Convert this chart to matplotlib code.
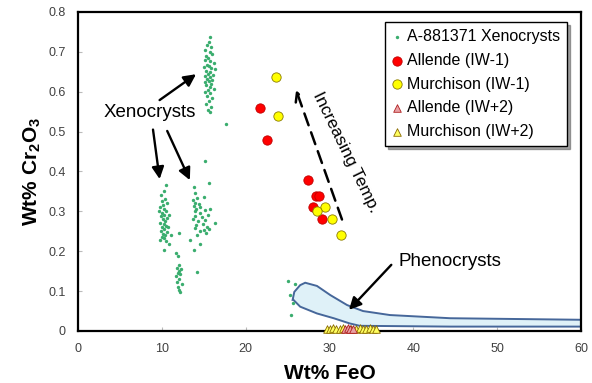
import matplotlib
matplotlib.use("Agg")
import matplotlib.pyplot as plt
import numpy as np

plt.rcParams['font.family'] = ['Liberation Sans', 'DejaVu Sans']
plt.rcParams['mathtext.fontset'] = 'custom'
plt.rcParams['mathtext.rm'] = 'Liberation Sans:bold'
plt.rcParams['mathtext.default'] = 'rm'

# A-881371 xenocrysts (FeO, Cr2O3 wt%)
xeno_feo = [
    15.8, 15.6, 15.4, 15.9, 15.2, 15.7, 16.0, 15.3, 15.5, 15.1, 15.8, 16.2, 15.4, 15.6, 15.0,
    15.9, 16.3, 15.3, 15.7, 15.5, 16.1, 15.2, 15.8, 15.4, 16.0, 15.6, 15.1, 15.9, 15.3, 15.7,
    16.2, 15.5, 15.2, 15.8, 15.4, 16.0, 15.6, 15.3, 15.9, 15.5, 15.7, 17.7, 15.1,
    10.5, 10.2, 9.9, 10.4, 10.0, 10.6, 10.1, 9.8, 10.3, 10.5, 10.0, 10.2, 9.9, 10.6, 10.1,
    10.4, 9.8, 10.2, 10.5, 10.0, 10.3, 9.9, 10.6, 10.1, 10.4, 10.0, 10.2, 9.8, 10.5, 10.9,
    10.3, 10.7, 10.8, 9.7, 11.1,
    12.0, 11.7, 11.9, 12.1, 11.8, 12.3, 12.0, 11.9, 12.2, 11.7, 12.1, 11.8, 12.4, 11.9, 12.0,
    12.2, 13.3, 13.8, 14.5, 14.2,
    15.6, 13.8, 15.0, 13.9, 14.2, 13.7, 14.0, 14.4, 13.8, 14.6, 14.1, 15.2, 13.9, 14.5, 15.5,
    14.0, 14.8, 13.7, 15.1, 14.3, 16.3, 14.9, 14.1, 15.4, 13.9, 15.0, 14.6, 15.3, 14.2, 15.8,
    15.6,
    25.1, 25.9, 25.3, 25.6, 25.4,
]
xeno_cr2o3 = [
    0.738, 0.725, 0.717, 0.712, 0.705, 0.700, 0.695, 0.690, 0.685, 0.680, 0.676, 0.672, 0.668, 0.665, 0.662,
    0.660, 0.656, 0.652, 0.650, 0.645, 0.643, 0.640, 0.637, 0.633, 0.630, 0.627, 0.624, 0.620, 0.616, 0.612,
    0.608, 0.604, 0.600, 0.596, 0.590, 0.585, 0.578, 0.570, 0.562, 0.555, 0.548, 0.519, 0.427,
    0.366, 0.350, 0.340, 0.332, 0.325, 0.320, 0.315, 0.310, 0.306, 0.300, 0.296, 0.292, 0.288, 0.284, 0.280,
    0.276, 0.272, 0.268, 0.264, 0.260, 0.256, 0.252, 0.248, 0.244, 0.240, 0.236, 0.232, 0.228, 0.225, 0.218,
    0.203, 0.262, 0.290, 0.300, 0.240,
    0.245, 0.196, 0.188, 0.165, 0.158, 0.155, 0.150, 0.145, 0.142, 0.138, 0.130, 0.122, 0.118, 0.110, 0.102,
    0.098, 0.228, 0.203, 0.218, 0.149,
    0.372, 0.360, 0.337, 0.345, 0.333, 0.328, 0.322, 0.318, 0.314, 0.310, 0.306, 0.303, 0.300, 0.296, 0.292,
    0.288, 0.285, 0.281, 0.278, 0.275, 0.272, 0.268, 0.265, 0.262, 0.258, 0.254, 0.250, 0.245, 0.241, 0.305,
    0.255,
    0.126, 0.118, 0.089, 0.069, 0.040,
]

allende_iw1_feo = [21.7, 22.5, 27.4, 28.4, 28.8, 28.0, 29.1]
allende_iw1_cr = [0.558, 0.479, 0.379, 0.339, 0.339, 0.310, 0.280]
murch_iw1_feo = [23.6, 23.9, 29.5, 28.5, 30.3, 31.4]
murch_iw1_cr = [0.638, 0.539, 0.310, 0.300, 0.280, 0.241]

allende_iw2_feo = [31.9, 32.2, 32.5, 32.8]
allende_iw2_cr = [0.006, 0.007, 0.005, 0.006]
murch_iw2_feo = [29.7, 30.0, 30.4, 30.8, 31.2, 31.6, 32.6, 33.2, 33.6, 34.0, 34.4, 34.8, 35.2, 35.5]
murch_iw2_cr = [0.006, 0.005, 0.007, 0.006, 0.005, 0.007, 0.006, 0.005, 0.007, 0.006, 0.005, 0.007, 0.006, 0.005]

# phenocryst field outline
pheno_feo = [25.6, 25.8, 26.5, 27.1, 28.5, 30.1, 32.1, 34.0, 37.2, 44.4, 60.5,
             60.5, 44.4, 33.6, 32.4, 30.5, 28.5, 26.5, 25.7]
pheno_cr = [0.078, 0.098, 0.115, 0.121, 0.113, 0.090, 0.065, 0.050, 0.040, 0.032, 0.028,
            0.011, 0.011, 0.013, 0.019, 0.032, 0.044, 0.061, 0.078]

fig = plt.figure(figsize=(5.92, 3.83), dpi=100)
ax = fig.add_axes([0.1318, 0.1358, 0.8496, 0.8329])

ax.fill(pheno_feo, pheno_cr, facecolor='#dff1f8', edgecolor='#46679a', lw=1.4, zorder=2)

ax.scatter(xeno_feo, xeno_cr2o3, s=6, color='#3aad6e', lw=0, zorder=3,
           label='A-881371 Xenocrysts')
ax.scatter(allende_iw1_feo, allende_iw1_cr, s=45, facecolor='#ff0000', edgecolor='#c00000',
           lw=0.6, zorder=4, label='Allende (IW-1)')
ax.scatter(murch_iw1_feo, murch_iw1_cr, s=45, facecolor='#ffff00', edgecolor='#8a7a00',
           lw=0.6, zorder=4, label='Murchison (IW-1)')
ax.scatter(allende_iw2_feo, allende_iw2_cr, s=30, marker='^', facecolor='#e8a0a4',
           edgecolor='#b02020', lw=0.6, zorder=5, clip_on=False, label='Allende (IW+2)')
ax.scatter(murch_iw2_feo, murch_iw2_cr, s=30, marker='^', facecolor='#ffff60',
           edgecolor='#8a6a00', lw=0.6, zorder=4, clip_on=False, label='Murchison (IW+2)')

ax.set_xlim(0, 60)
ax.set_ylim(0, 0.8)
ax.set_xticks(range(0, 61, 10))
ax.set_yticks(np.arange(0, 0.81, 0.1))
ax.set_yticklabels(['0', '0.1', '0.2', '0.3', '0.4', '0.5', '0.6', '0.7', '0.8'])
ax.tick_params(axis='both', direction='in', length=3, color='#bbbbbb', labelsize=9,
               labelcolor='#404040')
ax.tick_params(axis='x', pad=9)
ax.tick_params(axis='y', pad=9)
for sp in ax.spines.values():
    sp.set_linewidth(1.6)

ax.set_xlabel('Wt% FeO', fontsize=15, fontweight='bold', labelpad=6)
ax.set_ylabel(r'Wt% Cr$_2$O$_3$', fontsize=15, fontweight='bold', labelpad=4)

# annotations
arrow_kw = dict(arrowstyle='-|>', color='black', lw=1.7, mutation_scale=18)
ax.text(8.6, 0.547, 'Xenocrysts', fontsize=13.5, ha='center', va='center')
ax.annotate('', xy=(14.35, 0.648), xytext=(9.46, 0.575), arrowprops=arrow_kw)
ax.annotate('', xy=(9.78, 0.374), xytext=(8.9, 0.512), arrowprops=arrow_kw)
ax.annotate('', xy=(13.48, 0.372), xytext=(10.5, 0.508), arrowprops=arrow_kw)

ax.text(44.4, 0.174, 'Phenocrysts', fontsize=13.5, ha='center', va='center')
ax.annotate('', xy=(32.1, 0.048), xytext=(37.6, 0.171), arrowprops=arrow_kw)

ax.annotate('', xy=(25.9, 0.611), xytext=(31.6, 0.273),
            arrowprops=dict(arrowstyle='->', color='black', lw=1.8, linestyle=(0, (5, 3)),
                            mutation_scale=16))
ax.text(31.9, 0.449, 'Increasing Temp.', fontsize=12.5, rotation=-64,
        rotation_mode='anchor', ha='center', va='center')

leg = ax.legend(loc='upper right', bbox_to_anchor=(0.972, 0.969), borderaxespad=0,
                fontsize=11.5, frameon=True, fancybox=False, shadow=True,
                handlelength=0.6, handletextpad=0.3, labelspacing=0.55,
                borderpad=0.45, scatterpoints=1)
leg.get_frame().set_edgecolor('black')
leg.get_frame().set_linewidth(1.0)
handles = leg.legend_handles
handles[0].set_sizes([6])
for h in handles[1:3]:
    h.set_sizes([45])
for h in handles[3:]:
    h.set_sizes([30])

fig.savefig('out.png', dpi=100)
